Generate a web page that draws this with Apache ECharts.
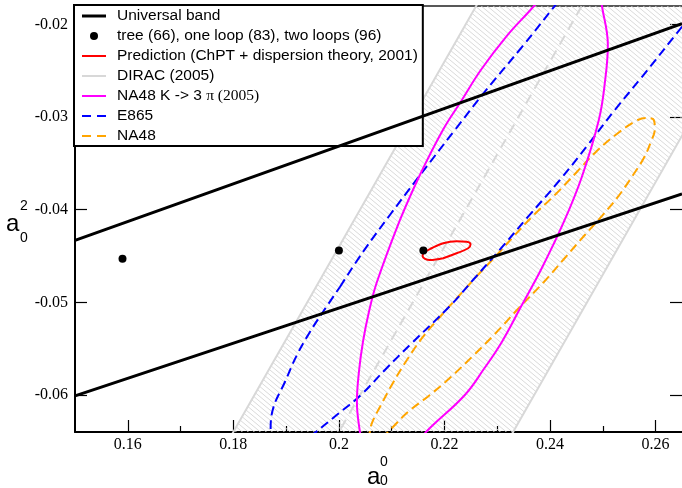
<!DOCTYPE html>
<html><head><meta charset="utf-8">
<script src="https://cdn.jsdelivr.net/npm/echarts@6/dist/echarts.min.js"></script>
<style>html,body{margin:0;padding:0;background:#fff}#c{width:682px;height:488px}</style>
</head><body><div id="c"></div>
<script>
// ---- tick values ----
const xTicks = [0.16, 0.18, 0.20, 0.22, 0.24, 0.26];
const xMinorTicks = [0.17, 0.19, 0.21, 0.23, 0.25];
const yTicks = [-0.06, -0.05, -0.04, -0.03, -0.02];

// ---- series data (a0^0, a0^2) ----
const universalUpper = [[0.15, -0.0433], [0.265, -0.0199]];
const universalLower = [[0.15, -0.0601], [0.265, -0.0383]];
const treeOneTwoLoops = [[0.159, -0.0453], [0.200, -0.0444], [0.216, -0.0444]];
const prediction = [[0.21975,-0.04524],[0.22229,-0.04470],[0.22449,-0.04416],[0.22494,-0.04373],[0.22419,-0.04345],[0.22229,-0.04341],[0.21975,-0.04362],[0.21756,-0.04416],[0.21610,-0.04464],[0.21585,-0.04499],[0.21723,-0.04543],[0.21975,-0.04524]];
const diracLeft = [[0.174, -0.070], [0.234, -0.010]];
const diracRight = [[0.227, -0.070], [0.287, -0.010]];
const diracCentral = [[0.194, -0.070], [0.254, -0.010]];
const na48K3pi = [[0.21155,-0.04111],[0.21534,-0.03625],[0.21970,-0.03139],[0.22330,-0.02815],[0.22689,-0.02491],[0.23163,-0.02135],[0.23712,-0.01789],[0.24015,-0.01573],[0.24337,-0.01433],[0.24621,-0.01379],[0.24848,-0.01465],[0.24943,-0.01627],[0.24981,-0.01789],[0.25095,-0.02221],[0.25038,-0.02631],[0.24924,-0.03031],[0.24602,-0.03646],[0.24261,-0.04132],[0.23845,-0.04629],[0.23466,-0.05029],[0.23087,-0.05428],[0.22746,-0.05720],[0.22386,-0.06000],[0.21724,-0.06357],[0.21439,-0.06530],[0.21155,-0.06670],[0.20871,-0.06735],[0.20625,-0.06681],[0.20455,-0.06562],[0.20398,-0.06400],[0.20341,-0.06076],[0.20379,-0.05752],[0.20455,-0.05428],[0.20568,-0.05104],[0.20720,-0.04780],[0.21155,-0.04111]];
const e865 = [[0.20019,-0.04834],[0.20455,-0.04456],[0.20966,-0.04057],[0.21496,-0.03657],[0.22197,-0.03139],[0.22746,-0.02739],[0.23466,-0.02243],[0.24072,-0.01811],[0.24659,-0.01379],[0.25133,-0.01033],[0.25890,-0.00817],[0.26837,-0.01033],[0.27254,-0.01487],[0.26837,-0.01789],[0.26496,-0.02027],[0.25739,-0.02567],[0.25227,-0.02923],[0.24716,-0.03301],[0.24186,-0.03679],[0.23580,-0.04078],[0.23011,-0.04456],[0.22557,-0.04748],[0.22121,-0.05029],[0.21345,-0.05460],[0.20871,-0.05730],[0.20417,-0.06000],[0.19981,-0.06206],[0.19564,-0.06400],[0.19242,-0.06540],[0.18977,-0.06616],[0.18750,-0.06551],[0.18706,-0.06389],[0.18756,-0.06141],[0.18977,-0.05860],[0.19205,-0.05568],[0.19451,-0.05320],[0.19697,-0.05104],[0.20019,-0.04834]];
const na48 = [[0.22614,-0.04715],[0.22973,-0.04500],[0.23333,-0.04273],[0.23693,-0.04057],[0.24110,-0.03830],[0.24508,-0.03592],[0.24886,-0.03366],[0.25265,-0.03182],[0.25625,-0.03042],[0.25814,-0.03009],[0.25966,-0.03031],[0.25985,-0.03128],[0.25909,-0.03269],[0.25777,-0.03441],[0.25549,-0.03646],[0.25284,-0.03862],[0.24981,-0.04068],[0.24659,-0.04273],[0.24280,-0.04521],[0.23883,-0.04780],[0.23409,-0.05061],[0.22955,-0.05342],[0.22519,-0.05590],[0.22121,-0.05806],[0.21724,-0.06000],[0.21307,-0.06184],[0.21004,-0.06357],[0.20795,-0.06476],[0.20644,-0.06540],[0.20549,-0.06486],[0.20587,-0.06400],[0.20625,-0.06303],[0.20777,-0.06130],[0.21023,-0.05871],[0.21288,-0.05622],[0.21591,-0.05374],[0.21913,-0.05158],[0.22254,-0.04942],[0.22614,-0.04715]];

const names = ['Universal band', 'tree (66), one loop (83), two loops (96)', 'Prediction (ChPT + dispersion theory, 2001)', 'DIRAC (2005)', 'NA48 K -> 3 \u03c0 (2005)', 'E865', 'NA48'];
const solidIcon = 'path://M0,0H24V2H0Z';
const thickIcon = 'path://M0,0H24V3H0Z';
const dashIcon = 'path://M0,0H9V2H0ZM15,0H24V2H15Z';
const legendIcons = [thickIcon, 'circle', solidIcon, solidIcon, solidIcon, dashIcon, dashIcon];

function hatchCanvas() {
  const c = document.createElement('canvas');
  c.width = 6; c.height = 5;
  const g = c.getContext('2d');
  g.strokeStyle = '#d6d6d6'; g.lineWidth = 0.9;
  for (const dy of [-5, 0, 5]) {
    g.beginPath(); g.moveTo(-6, dy - 5); g.lineTo(12, dy + 10); g.stroke();
  }
  return c;
}
const hatch = hatchCanvas();
const bandPoly = diracLeft.concat(diracRight.slice().reverse());

const X0 = 0.15, X1 = 0.265, Y0 = -0.064, Y1 = -0.018;
const fmt = v => String(parseFloat((+v).toFixed(3)));
const sansF = 'Liberation Sans';
const serifF = 'Liberation Serif';
const labelStyle = { fontFamily: serifF, fontSize: 16, color: '#000' };
const tickLine = { color: '#000', width: 1.2 };

const chart = echarts.init(document.getElementById('c'), null, { renderer: 'canvas' });
chart.setOption({
  animation: false,
  backgroundColor: '#fff',
  grid: [
    { left: 75, top: 6, width: 607, height: 426 },
    { left: 75, top: 6, width: 607, height: 426 }
  ],
  xAxis: [
    { type: 'value', gridIndex: 0, position: 'bottom', min: X0, max: X1,
      axisLine: { show: true, onZero: false, lineStyle: { color: '#000', width: 2 } },
      axisTick: { show: true, inside: true, length: 12, customValues: xTicks, lineStyle: tickLine },
      axisLabel: { show: true, customValues: xTicks, margin: 5, formatter: fmt, ...labelStyle },
      splitLine: { show: false } },
    { type: 'value', gridIndex: 0, position: 'top', min: X0, max: X1,
      axisLine: { show: true, onZero: false, lineStyle: { color: '#222', width: 1.5 } },
      axisTick: { show: false }, axisLabel: { show: false }, splitLine: { show: false } },
    { type: 'value', gridIndex: 1, position: 'bottom', min: X0, max: X1,
      axisLine: { show: false },
      axisTick: { show: true, inside: true, length: 6, customValues: xMinorTicks, lineStyle: tickLine },
      axisLabel: { show: false }, splitLine: { show: false } }
  ],
  yAxis: [
    { type: 'value', gridIndex: 0, position: 'left', min: Y0, max: Y1,
      axisLine: { show: true, onZero: false, lineStyle: { color: '#000', width: 2 } },
      axisTick: { show: true, inside: true, length: 12, customValues: yTicks, lineStyle: tickLine },
      axisLabel: { show: true, customValues: yTicks, margin: 7, formatter: fmt, ...labelStyle },
      splitLine: { show: false } },
    { type: 'value', gridIndex: 0, position: 'right', min: Y0, max: Y1,
      axisLine: { show: false },
      axisTick: { show: true, inside: true, length: 12, customValues: yTicks, lineStyle: tickLine },
      axisLabel: { show: false }, splitLine: { show: false } },
    { type: 'value', gridIndex: 1, min: Y0, max: Y1, show: false }
  ],
  legend: {
    data: names.map((n, i) => ({ name: n, icon: legendIcons[i] })),
    orient: 'vertical', left: 74, top: 5,
    selectedMode: false,
    backgroundColor: '#fff', borderColor: '#000', borderWidth: 2,
    padding: [1, 5, 0, 8], itemGap: 0,
    itemWidth: 24, itemHeight: 8,
    textStyle: { fontFamily: sansF, fontSize: 15.5, color: '#000', lineHeight: 20, padding: [0, 0, 0, 6],
      rich: { s: { fontFamily: sansF, fontSize: 15.5, color: '#000' }, t: { fontFamily: serifF, fontSize: 15.5, color: '#000' } } },
    formatter: n => n.indexOf('NA48 K') === 0 ? '{s|NA48 K -> 3 }{t|\u03c0 (2005)}' : n
  },
  graphic: [
    { type: 'text', x: 6, y: 236, style: { text: 'a', fontFamily: sansF, fontSize: 24, fill: '#000', verticalAlign: 'bottom' } },
    { type: 'text', x: 20, y: 199, style: { text: '2', fontFamily: sansF, fontSize: 14, fill: '#000', verticalAlign: 'top' } },
    { type: 'text', x: 20, y: 231, style: { text: '0', fontFamily: sansF, fontSize: 14, fill: '#000', verticalAlign: 'top' } },
    { type: 'text', x: 367, y: 489, style: { text: 'a', fontFamily: sansF, fontSize: 24, fill: '#000', verticalAlign: 'bottom' } },
    { type: 'text', x: 380, y: 455, style: { text: '0', fontFamily: sansF, fontSize: 14, fill: '#000', verticalAlign: 'top' } },
    { type: 'text', x: 380, y: 474, style: { text: '0', fontFamily: sansF, fontSize: 14, fill: '#000', verticalAlign: 'top' } }
  ],
  series: [
    { type: 'custom', name: 'DIRAC band', xAxisIndex: 0, yAxisIndex: 0, data: bandPoly, z: 1, silent: true,
      renderItem: function (params, api) {
        if (params.dataIndex !== 0) return null;
        const pts = [];
        for (let i = 0; i < params.dataInsideLength; i++) pts.push(api.coord([api.value(0, i), api.value(1, i)]));
        const cs = params.coordSys;
        return { type: 'polygon', shape: { points: pts }, style: { fill: { image: hatch, repeat: 'repeat' }, stroke: null },
          clipPath: { type: 'rect', shape: { x: cs.x, y: cs.y, width: cs.width, height: cs.height } } };
      } },
    { type: 'line', name: names[3], data: diracLeft.concat([[null, null]], diracRight), connectNulls: false,
      symbol: 'none', lineStyle: { color: '#d8d8d8', width: 2 }, itemStyle: { color: '#d8d8d8' }, z: 2 },
    { type: 'line', name: 'DIRAC central', data: diracCentral, symbol: 'none',
      lineStyle: { color: '#d8d8d8', width: 2, type: [10, 7] }, z: 2 },
    { type: 'line', name: names[6], data: na48, symbol: 'none', smooth: 0.4,
      lineStyle: { color: '#ffa500', width: 2, type: [9, 5] }, itemStyle: { color: '#ffa500' }, z: 3 },
    { type: 'line', name: names[5], data: e865, symbol: 'none', smooth: 0.4,
      lineStyle: { color: '#0000ff', width: 2, type: [9, 5] }, itemStyle: { color: '#0000ff' }, z: 3 },
    { type: 'line', name: names[4], data: na48K3pi, symbol: 'none', smooth: 0.4,
      lineStyle: { color: '#ff00ff', width: 2 }, itemStyle: { color: '#ff00ff' }, z: 3 },
    { type: 'line', name: names[0], data: universalUpper.concat([[null, null]], universalLower), connectNulls: false,
      symbol: 'none', lineStyle: { color: '#000', width: 3 }, itemStyle: { color: '#000' }, z: 4 },
    { type: 'line', name: names[2], data: prediction, symbol: 'none', smooth: 0.4,
      lineStyle: { color: '#ff0000', width: 2 }, itemStyle: { color: '#ff0000' }, z: 4 },
    { type: 'scatter', name: names[1], data: treeOneTwoLoops, symbol: 'circle', symbolSize: 8,
      itemStyle: { color: '#000', opacity: 1 }, z: 5 }
  ]
});
</script></body></html>
